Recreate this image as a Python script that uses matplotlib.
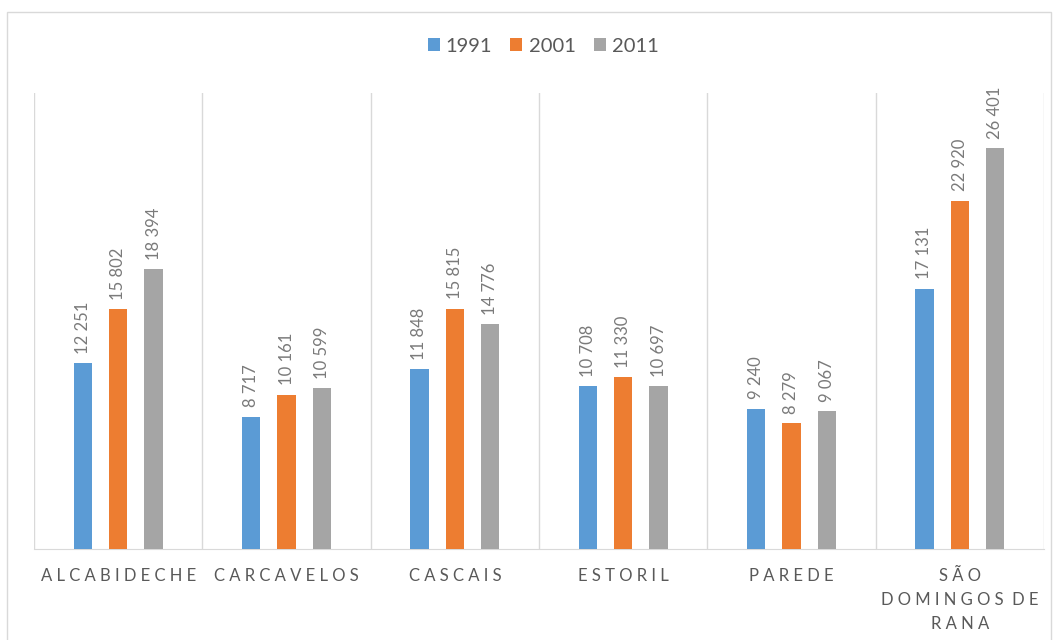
import numpy as np
import matplotlib.pyplot as plt
from matplotlib.patches import Rectangle

categories = ['ALCABIDECHE', 'CARCAVELOS', 'CASCAIS', 'ESTORIL', 'PAREDE', 'SÃO\nDOMINGOS DE\nRANA']
years = ['1991', '2001', '2011']
v1991 = [12251, 8717, 11848, 10708, 9240, 17131]
v2001 = [15802, 10161, 15815, 11330, 8279, 22920]
v2011 = [18394, 10599, 14776, 10697, 9067, 26401]
colors = ['#5b9bd5', '#ed7d31', '#a5a5a5']

plt.rcParams['font.family'] = ['Lato', 'DejaVu Sans']
txt = '#595959'

def spaced(s):
    # letter spacing like the original axis labels
    return '\n'.join(' '.join(list(line)).replace('   ', '  ') for line in s.split('\n'))

fig = plt.figure(figsize=(10.58, 6.4), dpi=100)
ax = fig.add_axes([34/1058, 91/640, 1010/1058, 456/640])

x = np.arange(len(categories))
w = 0.11
off = 0.21
for i, (vals, yr) in enumerate(zip([v1991, v2001, v2011], years)):
    pos = x + (i - 1) * off
    ax.bar(pos, vals, width=w, color=colors[i], label=yr, zorder=3)
    for p, v in zip(pos, vals):
        lab = f'{v:,}'.replace(',', ' ')
        ax.text(p, v + 600, lab, rotation=90, ha='center', va='bottom',
                fontsize=12, color='#7a7a7a')

ax.set_xlim(-0.5, len(categories) - 0.5)
ax.set_ylim(0, 30000)
for b in np.arange(-0.5, len(categories), 1.0):
    ax.axvline(b, color='#d9d9d9', lw=1, zorder=1)
for s in ['top', 'right', 'left']:
    ax.spines[s].set_visible(False)
ax.spines['bottom'].set_color('#d9d9d9')
ax.set_yticks([])
ax.set_xticks(x)
ax.set_xticklabels([spaced(c) for c in categories], fontsize=12, color=txt, linespacing=1.6)
ax.tick_params(axis='x', length=0, pad=14)

leg = fig.legend(loc='center', bbox_to_anchor=(543/1058, 1 - 46/640), ncol=3, frameon=False,
                 fontsize=14.5, handlelength=0.6, handleheight=0.6, handletextpad=0.3,
                 columnspacing=0.9)
for t in leg.get_texts():
    t.set_color(txt)

fig.patches.append(Rectangle((7/1058, -0.01), 1044/1058, 1 - 12/640 + 0.01,
                             transform=fig.transFigure, fill=False,
                             edgecolor='#d9d9d9', lw=1))

fig.savefig('out.png', dpi=100)
